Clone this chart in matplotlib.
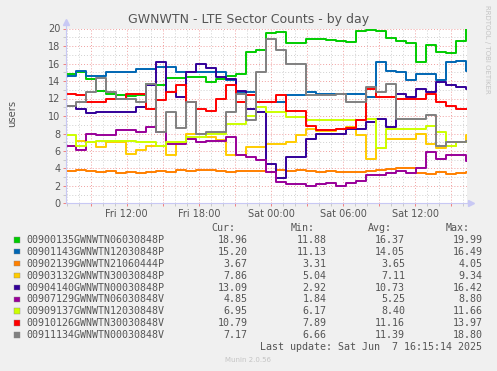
import numpy as np
import matplotlib.pyplot as plt
from matplotlib.patches import Rectangle

# hours since Fri 00:00, one sample every 10 px (= 50 min)
t_start = 6.94
step_h = 10 / 12

names = [
    '00900135GWNWTN06030848P',
    '00901143GWNWTN12030848P',
    '00902139GWNWTN21060444P',
    '00903132GWNWTN30030848P',
    '00904140GWNWTN00030848P',
    '00907129GWNWTN06030848V',
    '00909137GWNWTN12030848V',
    '00910126GWNWTN30030848V',
    '00911134GWNWTN00030848V',
]
colors = ['#00cc00', '#0066b3', '#ff8000', '#ffcc00', '#330099',
          '#990099', '#ccff00', '#ff0000', '#808080']

green = [14.8, 15.0, 14.2, 12.8, 12.5, 12.4, 12.3, 12.4, 13.7, 13.6, 14.3, 14.3, 14.5, 14.5,
         13.9, 14.2, 14.6, 14.8, 17.3, 17.5, 19.5, 19.6, 18.4, 18.3, 18.8, 18.8, 18.7, 18.6,
         18.5, 19.7, 19.8, 19.7, 18.9, 18.6, 18.3, 16.2, 18.1, 17.3, 17.2, 18.6, 19.9, 18.96]
blue = [14.6, 15.2, 14.6, 14.6, 15.0, 15.0, 15.0, 15.4, 15.4, 15.6, 15.6, 15.0, 15.0, 15.0,
        15.0, 15.0, 14.1, 12.7, 12.7, 11.6, 11.6, 11.6, 12.4, 12.4, 12.7, 12.5, 12.5, 12.5,
        12.5, 12.5, 12.2, 16.2, 15.2, 15.0, 14.1, 14.8, 14.8, 14.1, 16.2, 16.3, 15.2, 15.2]
orange = [3.7, 3.8, 3.7, 3.6, 3.7, 3.5, 3.6, 3.5, 3.6, 3.7, 3.6, 3.8, 3.7, 3.8, 3.8, 3.7,
          3.6, 3.7, 3.7, 3.7, 3.6, 3.8, 3.7, 3.8, 3.7, 3.6, 3.7, 3.6, 3.6, 3.6, 3.7, 3.8,
          3.9, 4.0, 4.0, 3.5, 3.4, 3.6, 3.4, 3.5, 3.6, 3.67]
yellow = [6.6, 7.2, 7.0, 6.5, 7.0, 7.0, 5.7, 6.1, 6.6, 6.6, 5.5, 7.0, 8.0, 8.0, 7.6, 7.3,
          5.5, 5.5, 6.4, 6.5, 6.8, 6.8, 7.0, 7.8, 8.5, 8.3, 8.3, 8.5, 8.7, 7.8, 5.1, 6.3,
          7.4, 7.4, 7.4, 8.0, 6.8, 6.3, 6.6, 7.0, 7.8, 7.86]
indigo = [11.2, 10.8, 10.3, 10.4, 10.4, 10.4, 10.4, 11.0, 13.5, 16.2, 12.7, 12.2, 15.0, 16.0,
          15.5, 14.5, 14.2, 12.9, 10.8, 10.5, 4.5, 2.9, 5.3, 5.3, 7.4, 8.0, 8.0, 8.0, 8.5,
          8.5, 9.3, 9.7, 8.7, 12.5, 12.2, 13.1, 12.7, 13.9, 13.5, 13.3, 13.1, 13.09]
purple = [6.6, 6.1, 8.0, 7.8, 7.8, 8.4, 8.4, 8.2, 8.7, 8.2, 6.8, 6.8, 7.4, 7.0, 7.2, 7.2,
          7.6, 5.5, 5.3, 5.0, 3.6, 2.4, 2.2, 2.2, 2.0, 2.2, 2.3, 2.0, 2.3, 2.6, 3.2, 3.3,
          3.5, 3.7, 3.5, 4.0, 5.9, 5.1, 5.5, 5.5, 4.8, 4.85]
lime = [7.8, 6.6, 7.0, 7.2, 7.2, 7.2, 7.2, 7.0, 7.0, 6.6, 7.0, 7.0, 7.6, 7.6, 8.0, 8.0,
        9.1, 9.1, 10.0, 11.0, 10.5, 10.5, 9.9, 9.9, 9.5, 9.5, 9.5, 9.5, 9.5, 9.5, 9.7, 6.3,
        8.5, 8.5, 8.5, 8.5, 8.9, 8.2, 6.6, 7.0, 7.0, 6.95]
red = [12.5, 12.4, 11.6, 11.6, 12.0, 12.0, 12.5, 12.5, 10.8, 11.8, 12.7, 13.5, 11.6, 10.8,
       10.6, 12.0, 13.5, 11.6, 12.4, 11.6, 11.6, 12.4, 10.6, 10.6, 8.9, 8.4, 8.4, 8.5, 8.6,
       9.5, 13.1, 12.2, 12.2, 12.0, 12.0, 12.0, 12.5, 11.6, 11.2, 10.8, 10.8, 10.79]
gray = [11.2, 11.6, 12.7, 14.3, 12.7, 12.0, 12.0, 11.6, 13.7, 8.2, 10.4, 8.6, 11.6, 7.9,
        8.2, 8.2, 10.5, 12.5, 9.5, 15.0, 18.8, 17.5, 16.0, 16.0, 12.4, 12.4, 12.4, 12.5,
        11.6, 11.6, 13.3, 12.7, 13.7, 9.7, 9.7, 9.7, 10.1, 6.6, 7.0, 7.0, 7.2, 7.17]
series = [green, blue, orange, yellow, indigo, purple, lime, red, gray]

cur = ['18.96', '15.20', '3.67', '7.86', '13.09', '4.85', '6.95', '10.79', '7.17']
mins = ['11.88', '11.13', '3.31', '5.04', '2.92', '1.84', '6.17', '7.89', '6.66']
avgs = ['16.37', '14.05', '3.65', '7.11', '10.73', '5.25', '8.40', '11.16', '11.39']
maxs = ['19.99', '16.49', '4.05', '9.34', '16.42', '8.80', '11.66', '13.97', '18.80']

tick_hours = [12, 18, 24, 30, 36]
tick_labels = ['Fri 12:00', 'Fri 18:00', 'Sat 00:00', 'Sat 06:00', 'Sat 12:00']

W, H = 497, 371
txt = '#555555'
fig = plt.figure(figsize=(W / 100, H / 100), dpi=100, facecolor='#f0f0f0')
ax = fig.add_axes([66 / W, 1 - 203.5 / H, 400.5 / W, 175 / H])
ax.set_facecolor('white')

# rrdtool draws step lines
for vals, c in zip(series, colors):
    t = t_start + np.arange(len(vals)) * step_h
    ax.plot(t, vals, color=c, lw=1.4, drawstyle='steps-post')

ax.set_xlim(t_start, t_start + 400 / 12)
ax.set_ylim(0, 20)

ax.set_xticks(np.arange(9, 41, 3))
ax.set_xticklabels([tick_labels[tick_hours.index(h)] if h in tick_hours else ''
                    for h in range(9, 41, 3)])
ax.set_xticks(np.arange(7, 41, 1), minor=True)
ax.set_yticks(np.arange(0, 21, 2))
ax.set_yticks(np.arange(1, 20, 2), minor=True)
ax.grid(which='major', color='#f0a0a0', ls=(0, (1, 2)), lw=0.7)
ax.grid(which='minor', color='#d0d0d0', ls=(0, (1, 2)), lw=0.7)
ax.tick_params(which='major', colors='#f08080', labelcolor=txt, labelsize=7, length=2.5, width=0.7, pad=1.5)
ax.tick_params(which='minor', colors='#c8c8c8', length=2.5, width=0.7)

for s in ['top', 'right']:
    ax.spines[s].set_visible(False)
for s in ['left', 'bottom']:
    ax.spines[s].set_color('#c8c8f4')
    ax.spines[s].set_linewidth(0.8)
ax.plot([0], [1.035], marker='^', color='#c8c8f4', ms=4, transform=ax.transAxes, clip_on=False)
ax.plot([0, 0], [1, 1.03], color='#c8c8f4', lw=0.8, transform=ax.transAxes, clip_on=False)
ax.plot([1, 1.01], [0, 0], color='#c8c8f4', lw=0.8, transform=ax.transAxes, clip_on=False)
ax.plot([1.012], [0], marker='>', color='#c8c8f4', ms=4, transform=ax.transAxes, clip_on=False)

fig.text(248.5 / W, 1 - 19.5 / H, 'GWNWTN - LTE Sector Counts - by day',
         ha='center', va='center', fontsize=9, color=txt)
fig.text(12 / W, 1 - 113 / H, 'users', rotation=90, ha='center', va='center',
         fontsize=7.2, color=txt)
fig.text(487 / W, 1 - 5 / H, 'RRDTOOL / TOBI OETIKER', rotation=270, ha='center', va='top',
         fontsize=5, color='#c4c4c4')

mono = dict(family='DejaVu Sans Mono', fontsize=7.2, color=txt, va='center')
for x, head in zip([235, 314.3, 392.3, 470], ['Cur:', 'Min:', 'Avg:', 'Max:']):
    fig.text(x / W, 1 - 228 / H, head, ha='right', **mono)
row_y = 240
for i, name in enumerate(names):
    y = row_y + i * 11.9
    fig.patches.append(Rectangle((14 / W, 1 - (y + 2.5) / H), 5.5 / W, 5.5 / H,
                                 facecolor=colors[i], edgecolor='#888888', lw=0.3,
                                 transform=fig.transFigure, figure=fig))
    fig.text(26 / W, 1 - y / H, name, ha='left', **mono)
    for x, v in zip([247.7, 326.7, 405, 482.3], [cur[i], mins[i], avgs[i], maxs[i]]):
        fig.text(x / W, 1 - y / H, v, ha='right', **mono)
fig.text(482.3 / W, 1 - 346.7 / H, 'Last update: Sat Jun  7 16:15:14 2025', ha='right', **mono)
fig.text(248 / W, 1 - 360 / H, 'Munin 2.0.56', ha='center', va='center',
         fontsize=5, color='#c4c4c4')

fig.savefig('out.png', dpi=100, facecolor=fig.get_facecolor())
